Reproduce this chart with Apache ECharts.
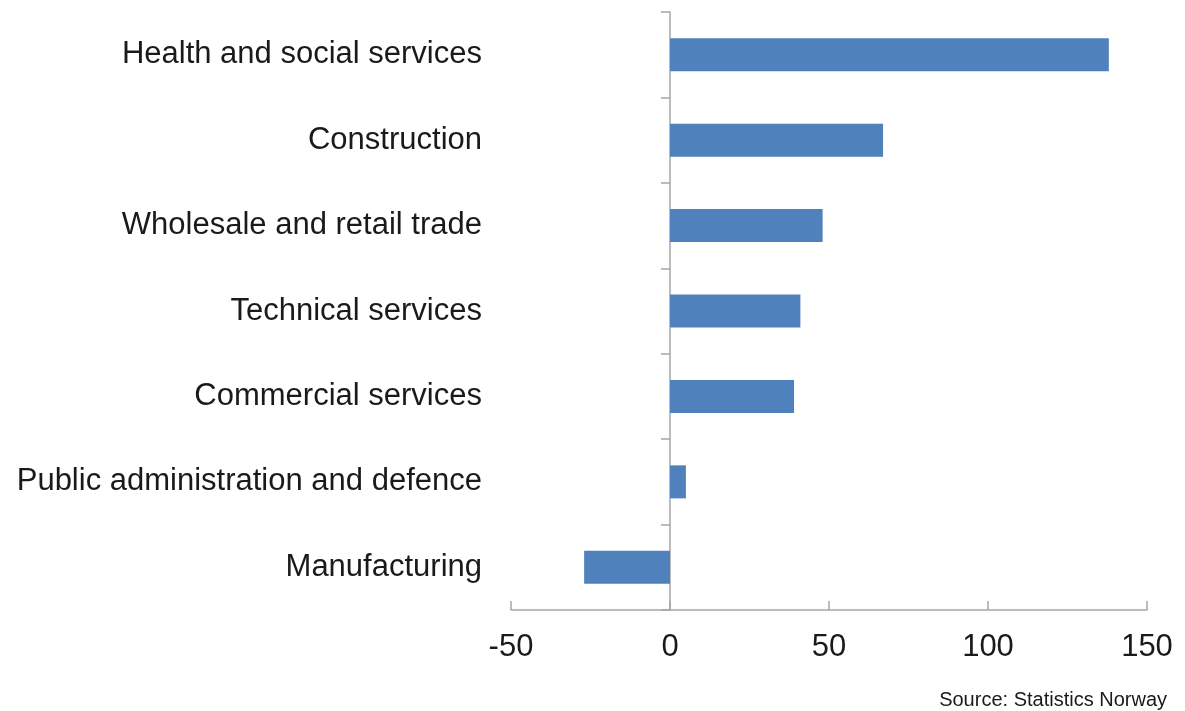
<!DOCTYPE html>
<html>
<head>
<meta charset="utf-8">
<script src="https://cdn.jsdelivr.net/npm/echarts@6/dist/echarts.min.js"></script>
<style>
html,body{margin:0;padding:0;background:#fff;}
#chart{width:1185px;height:711px;}
</style>
</head>
<body>
<div id="chart"></div>
<script>
const categories = [
  "Health and social services",
  "Construction",
  "Wholesale and retail trade",
  "Technical services",
  "Commercial services",
  "Public administration and defence",
  "Manufacturing"
];
const values = [138, 67, 48, 41, 39, 5, -27];
const xTicks = { min: -50, max: 150, interval: 50 };
const sourceText = "Source: Statistics Norway";

const chart = echarts.init(document.getElementById('chart'), null, { renderer: 'canvas' });
const FONT = 'Liberation Sans, Arial, sans-serif';
chart.setOption({
  animation: false,
  backgroundColor: '#ffffff',
  grid: { left: 511, right: 38, top: 12, bottom: 101, containLabel: false },
  xAxis: {
    type: 'value',
    min: xTicks.min, max: xTicks.max, interval: xTicks.interval,
    axisLine: { show: true, onZero: false, lineStyle: { color: '#a6a6a6', width: 1.5 } },
    axisTick: { show: true, inside: true, length: 9, lineStyle: { color: '#a6a6a6', width: 1.5 } },
    splitLine: { show: false },
    axisLabel: { fontFamily: FONT, fontSize: 31, color: '#1a1a1a', margin: 22 }
  },
  yAxis: [
    {
      type: 'category', data: categories, inverse: true, position: 'left',
      axisLine: { show: true, onZero: true, lineStyle: { color: '#a6a6a6', width: 1.5 } },
      axisTick: { show: true, length: 9, lineStyle: { color: '#a6a6a6', width: 1.5 } },
      axisLabel: { show: false }
    },
    {
      type: 'category', data: categories, inverse: true, position: 'left',
      axisLine: { show: false, onZero: false },
      axisTick: { show: false },
      axisLabel: { show: true, fontFamily: FONT, fontSize: 31, color: '#1a1a1a', margin: 29, padding: [4, 0, 0, 0] }
    }
  ],
  series: [{
    type: 'bar', yAxisIndex: 0, data: values, barWidth: 33,
    itemStyle: { color: '#4f81bd' }
  }],
  graphic: [{
    type: 'text', right: 18, top: 690,
    style: { text: sourceText, fontFamily: FONT, fontSize: 20, fill: '#1a1a1a' }
  }]
});
</script>
</body>
</html>
